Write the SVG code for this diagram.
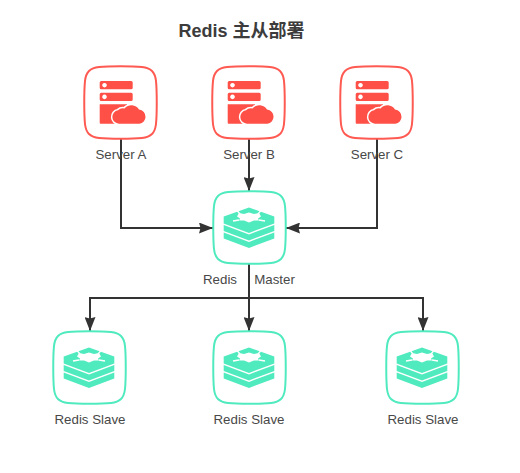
<svg xmlns="http://www.w3.org/2000/svg" width="520" height="473" viewBox="0 0 520 473">
<style>
.t{font-family:"Liberation Sans",Arial,sans-serif;font-size:13.3px;fill:#484848;text-anchor:middle}
.title{font-family:"Liberation Sans","Noto Sans CJK SC",sans-serif;font-size:18px;font-weight:700;fill:#3c3c3c;text-anchor:middle}
.c{fill:none;stroke:#333;stroke-width:2}
.sb{fill:#fff;stroke:#ff5a52;stroke-width:2}
.gb{fill:#fff;stroke:#50eabf;stroke-width:2}
.si{fill:#ff5047}
.gi{fill:#50eabf}
.gap{fill:#fff}
.gl{fill:none;stroke:#fff;stroke-width:1.3}
.cl{fill:#ff5047;stroke:#fff;stroke-width:3;paint-order:stroke}
</style>
<defs>
<marker id="a" markerUnits="userSpaceOnUse" markerWidth="14" markerHeight="11" refX="14" refY="5.500" orient="auto"><path d="M0 0L14 5.500L0 11L1.500 5.500Z" fill="#333"/></marker>
<path id="box" d="M14 0C24 -1 47 -1 57 0C66 1 70 5 71 14C72 24 72 47 71 57C70 66 66 70 57 71C47 72 24 72 14 71C5 70 1 66 0 57C-1 47 -1 24 0 14C1 5 5 1 14 0Z"/>
<g id="server">
<path class="si" fill-rule="evenodd" d="M16.200 14H46.200a1.500 1.500 0 0 1 1.500 1.500V20.800a1.500 1.500 0 0 1-1.500 1.500H16.200a1.500 1.500 0 0 1-1.500-1.500V15.500a1.500 1.500 0 0 1 1.500-1.500ZM19.500 15.900a2.300 2.300 0 1 0 .01 0ZM16.200 25.700H46.200a1.500 1.500 0 0 1 1.500 1.500V32.500a1.500 1.500 0 0 1-1.500 1.500H16.200a1.500 1.500 0 0 1-1.500-1.500V27.200a1.500 1.500 0 0 1 1.500-1.500ZM19.500 27.600a2.300 2.300 0 1 0 .01 0Z"/>
<path class="si" d="M14.700 37.300H42V56.700H15.700a1 1 0 0 1-1-1Z"/>
<path class="cl" d="M34 56.700A6.800 6.800 0 0 1 33 43.200A7 7 0 0 1 39.500 41.500A9 9 0 0 1 54 42.500A7 7 0 0 1 60.500 50A6.800 6.800 0 0 1 54.500 56.700Z"/>
</g>
<g id="redis">
<path class="gi" d="M35 15.500L60.300 24.500V31.500L35 41L9.700 31.500V24.500Z"/>
<path class="gi" d="M9.700 33L35 42.500L60.300 33V39L35 48.500L9.700 39Z"/>
<path class="gi" d="M9.700 40.500L35 50L60.300 40.500V46.500L35 56L9.700 46.500Z"/>
<path class="gap" d="M35 20.500L40 22L45 21L47 24.500L44 26.500L45 28.500L40 28.500L35 30.500L30 28.500L25 28.500L26 26.500L23 24.500L25 21L30 22Z"/>
<path class="gl" d="M26 22L23 18.500M44 22L47 18.500M25 28L19 29M45 28L51 29"/>
</g>
</defs>
<text class="title" x="241.500" y="36.500">Redis 主从部署</text>
<g id="connectors">
<path class="c" marker-end="url(#a)" d="M121 139V228H213"/>
<path class="c" marker-end="url(#a)" d="M249 139V191"/>
<path class="c" marker-end="url(#a)" d="M377 139V228H286"/>
<path class="c" marker-end="url(#a)" d="M249 264V298H90V331"/>
<path class="c" marker-end="url(#a)" d="M249 264V331"/>
<path class="c" marker-end="url(#a)" d="M249 298H423V331"/>
</g>
<g id="server-a" transform="translate(85,67)"><use href="#box" class="sb"/><use href="#server"/></g>
<g id="server-b" transform="translate(213,67)"><use href="#box" class="sb"/><use href="#server"/></g>
<g id="server-c" transform="translate(341,67)"><use href="#box" class="sb"/><use href="#server"/></g>
<g id="master" transform="translate(214,192)"><use href="#box" class="gb"/><use href="#redis"/></g>
<g id="slave-a" transform="translate(54,332)"><use href="#box" class="gb"/><use href="#redis"/></g>
<g id="slave-b" transform="translate(214,332)"><use href="#box" class="gb"/><use href="#redis"/></g>
<g id="slave-c" transform="translate(387,332)"><use href="#box" class="gb"/><use href="#redis"/></g>
<g id="labels">
<text class="t" x="121" y="159">Server A</text>
<text class="t" x="249" y="159">Server B</text>
<text class="t" x="377" y="159">Server C</text>
<text class="t" x="220" y="284">Redis</text>
<text class="t" x="274.500" y="284">Master</text>
<text class="t" x="90" y="424">Redis Slave</text>
<text class="t" x="249" y="424">Redis Slave</text>
<text class="t" x="423" y="424">Redis Slave</text>
</g>
</svg>
